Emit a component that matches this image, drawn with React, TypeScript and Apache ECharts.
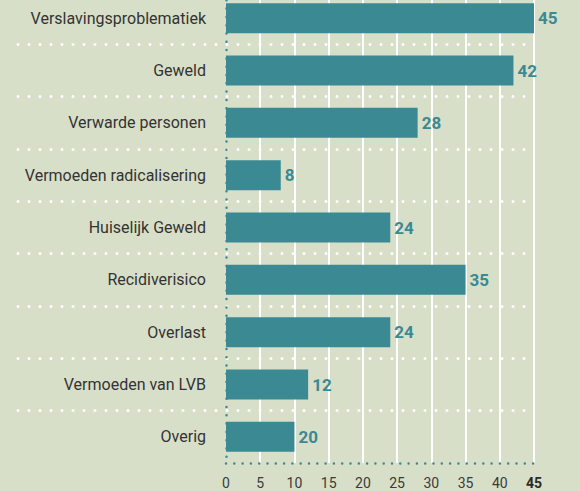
import React, { useEffect, useRef } from "react";
import * as echarts from "echarts";

const categories = [
  "Verslavingsproblematiek",
  "Geweld",
  "Verwarde personen",
  "Vermoeden radicalisering",
  "Huiselijk Geweld",
  "Recidiverisico",
  "Overlast",
  "Vermoeden van LVB",
  "Overig",
];
// bar lengths as drawn in the picture
const barValues = [45, 42, 28, 8, 24, 35, 24, 12, 10];
// value labels as printed in the picture
const labelValues = [45, 42, 28, 8, 24, 35, 24, 12, 20];
const xMin = 0;
const xMax = 45;
const xStep = 5;

const TEAL = "#3a8993";
const BG = "#d8dfc9";

export default function App() {
  const ref = useRef<HTMLDivElement>(null);
  useEffect(() => {
    if (!ref.current) return;
    const chart = echarts.init(ref.current, undefined, { renderer: "svg" });
    const top = 0;
    const bottom = 28;
    chart.setOption({
      animation: false,
      backgroundColor: BG,
      textStyle: { fontFamily: "Roboto" },
      grid: [
        { left: 18, right: 46, top, bottom },
        { left: 226, right: 46, top, bottom },
      ],
      xAxis: [
        {
          gridIndex: 0,
          type: "value",
          min: 0,
          max: 1,
          show: false,
        },
        {
          gridIndex: 1,
          type: "value",
          min: xMin,
          max: xMax,
          interval: xStep,
          axisLine: {
            show: true,
            lineStyle: { color: TEAL, width: 2.5, type: [0, 8.3], cap: "round" },
          },
          axisTick: { show: false },
          splitLine: {
            show: true,
            showMinLine: false,
            lineStyle: { color: "#ffffff", width: 2 },
          },
          axisLabel: {
            margin: 13,
            fontSize: 14,
            color: "#3a3a3a",
            fontFamily: "Roboto",
            formatter: (v: number) => (v === xMax ? `{b|${v}}` : `${v}`),
            rich: {
              b: { fontWeight: "bold", fontSize: 14, color: "#2a2a2a", fontFamily: "Roboto" },
            },
          },
        },
      ],
      yAxis: [
        {
          gridIndex: 0,
          type: "category",
          data: categories,
          inverse: true,
          axisLine: { show: false },
          axisTick: { show: false },
          axisLabel: { show: false },
          splitLine: {
            show: true,
            showMinLine: false,
            showMaxLine: false,
            lineStyle: { color: "#ffffff", width: 3, type: [0, 11], cap: "round" },
          },
        },
        {
          gridIndex: 1,
          type: "category",
          data: categories,
          inverse: true,
          z: 5,
          axisLine: {
            show: true,
            lineStyle: { color: TEAL, width: 2.5, type: [0, 8.3], cap: "round" },
          },
          axisTick: { show: false },
          axisLabel: {
            margin: 20,
            fontSize: 16,
            color: "#333333",
            fontFamily: "Roboto",
          },
        },
      ],
      series: [
        {
          type: "bar",
          xAxisIndex: 1,
          yAxisIndex: 1,
          data: barValues,
          barWidth: 30,
          itemStyle: { color: TEAL },
          label: {
            show: true,
            position: "right",
            distance: 4,
            fontSize: 17,
            fontWeight: "bold",
            color: TEAL,
            fontFamily: "Roboto",
            formatter: (p: any) => `${labelValues[p.dataIndex]}`,
          },
        },
      ],
    });
    return () => chart.dispose();
  }, []);
  return (
    <div
      ref={ref}
      style={{ position: "absolute", left: 0, top: -8, width: 580, height: 499 }}
    />
  );
}
